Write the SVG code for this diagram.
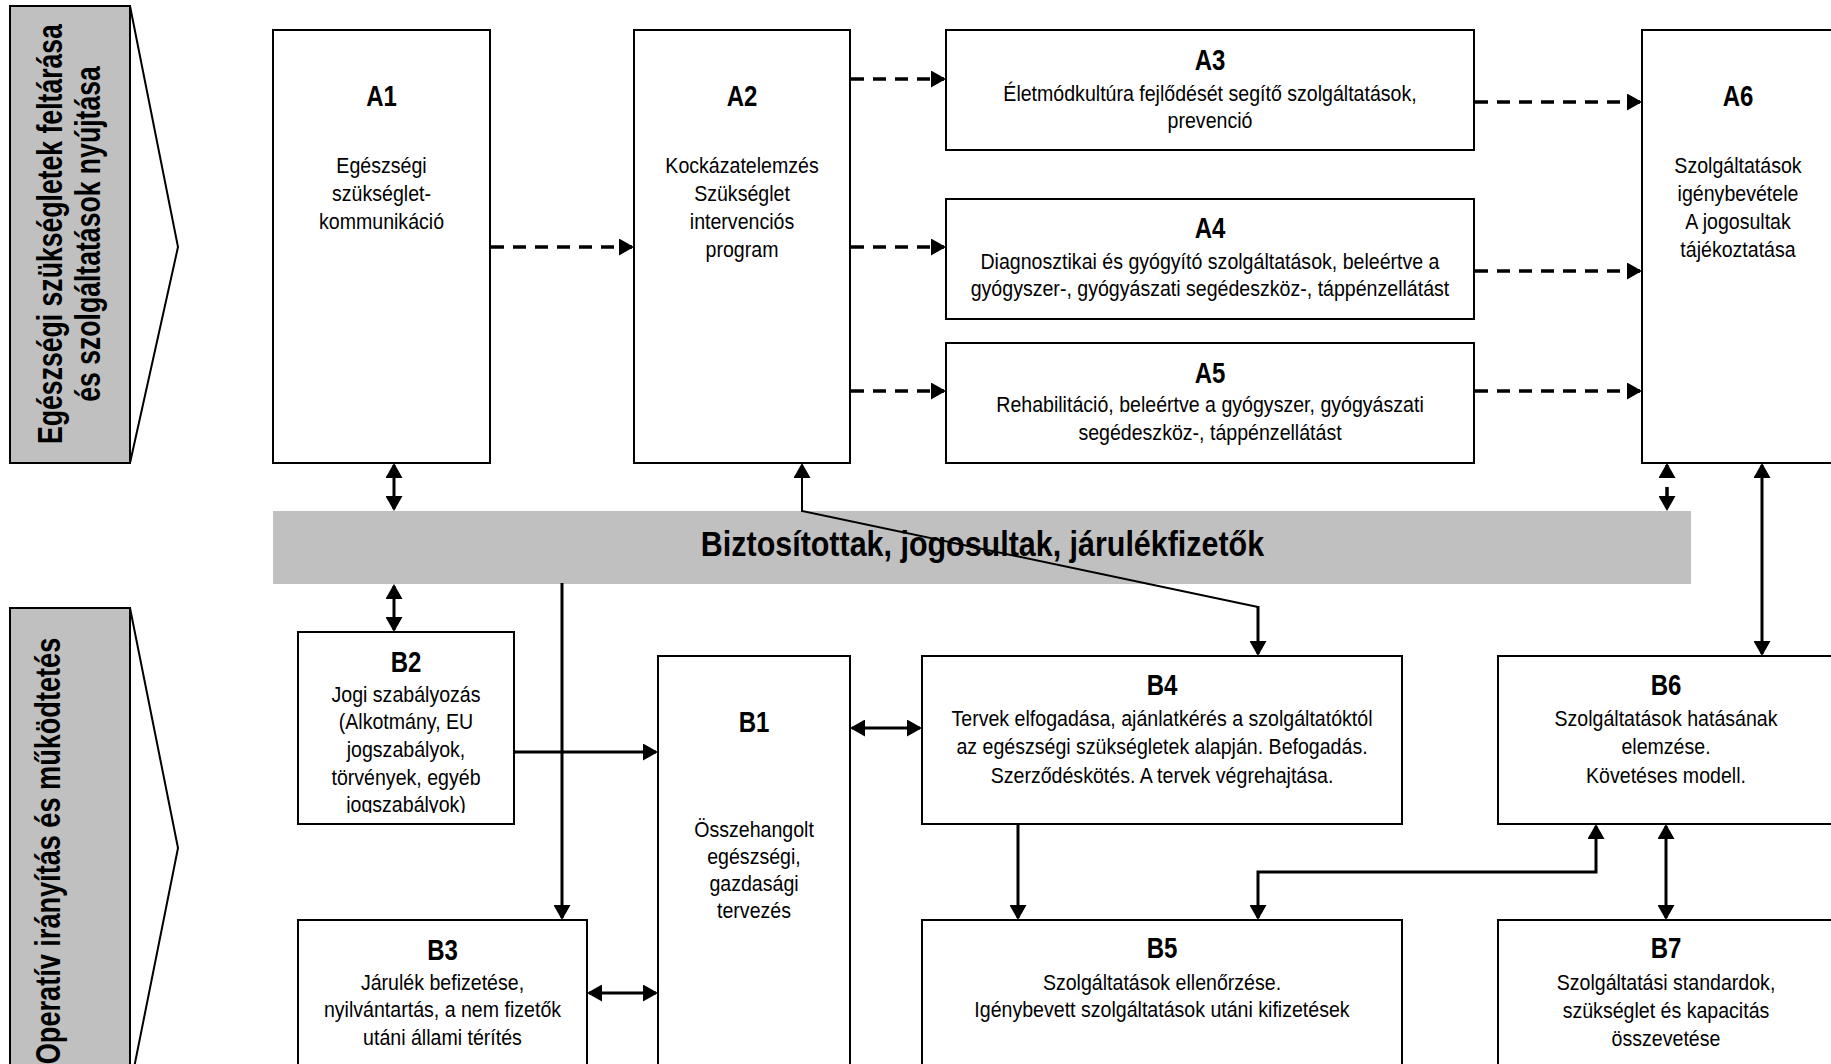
<svg xmlns="http://www.w3.org/2000/svg" width="1831" height="1064" viewBox="0 0 1831 1064">
<style>
.box{fill:#fff;stroke:#000;stroke-width:2}
.band{fill:#c0c0c0;stroke:#000;stroke-width:2}
.chev{fill:none;stroke:#000;stroke-width:2}
.bar{fill:#c0c0c0}
text{font-family:"Liberation Sans",Arial,sans-serif;fill:#000;text-anchor:middle}
.lbl{font-size:30px;font-weight:bold}
.txt{font-size:22px}
.ttl{font-size:35px;font-weight:bold}
.ban{font-size:35px;font-weight:bold}
.c{fill:none;stroke:#000;stroke-width:3}
.d{stroke-dasharray:13 9;stroke-width:3.5}
.thin{stroke-width:2}
</style>
<defs>
<marker id="ah" viewBox="0 0 15 17" refX="13" refY="8.5" markerWidth="15" markerHeight="17" markerUnits="userSpaceOnUse" orient="auto-start-reverse">
<path d="M0,0 L15,8.5 L0,17 Z" fill="#000"/>
</marker>
<clipPath id="clipB2"><rect x="299" y="633" width="214" height="180"/></clipPath>
</defs>

<g id="banner-top">
<rect class="band" x="10" y="6" width="120" height="457"/>
<polyline class="chev" points="130,6 178,247 130,463"/>
<text class="ban" transform="translate(62,234) rotate(-90) scale(0.76,1)">Egészségi szükségletek feltárása</text>
<text class="ban" transform="translate(100,234) rotate(-90) scale(0.76,1)">és szolgáltatások nyújtása</text>
</g>
<g id="banner-bottom">
<rect class="band" x="10" y="608" width="120" height="480"/>
<polyline class="chev" points="130,608 178,848 130,1088"/>
<text class="ban" transform="translate(60,851) rotate(-90) scale(0.775,1)">Operatív irányítás és működtetés</text>
</g>

<g id="bar">
<rect class="bar" x="273" y="511" width="1418" height="73"/>
<text class="ttl" transform="translate(982.5,556) scale(0.87,1)">Biztosítottak, jogosultak, járulékfizetők</text>
</g>

<g id="A1">
<rect class="box" x="273" y="30" width="217" height="433"/>
<text class="lbl" transform="translate(381.5,106) scale(0.8,1)">A1</text>
<text class="txt" transform="translate(381.5,173) scale(0.89,1)"><tspan x="0">Egészségi</tspan><tspan x="0" dy="28">szükséglet-</tspan><tspan x="0" dy="28">kommunikáció</tspan></text>
</g>
<g id="A2">
<rect class="box" x="634" y="30" width="216" height="433"/>
<text class="lbl" transform="translate(742,106) scale(0.8,1)">A2</text>
<text class="txt" transform="translate(742,173) scale(0.89,1)"><tspan x="0">Kockázatelemzés</tspan><tspan x="0" dy="28">Szükséglet</tspan><tspan x="0" dy="28">intervenciós</tspan><tspan x="0" dy="28">program</tspan></text>
</g>
<g id="A3">
<rect class="box" x="946" y="30" width="528" height="120"/>
<text class="lbl" transform="translate(1210,70) scale(0.8,1)">A3</text>
<text class="txt" transform="translate(1210,101) scale(0.89,1)"><tspan x="0">Életmódkultúra fejlődését segítő szolgáltatások,</tspan><tspan x="0" dy="27.5">prevenció</tspan></text>
</g>
<g id="A4">
<rect class="box" x="946" y="199" width="528" height="120"/>
<text class="lbl" transform="translate(1210,238) scale(0.8,1)">A4</text>
<text class="txt" transform="translate(1210,268.5) scale(0.89,1)"><tspan x="0">Diagnosztikai és gyógyító szolgáltatások, beleértve a</tspan><tspan x="0" dy="28">gyógyszer-, gyógyászati segédeszköz-, táppénzellátást</tspan></text>
</g>
<g id="A5">
<rect class="box" x="946" y="343" width="528" height="120"/>
<text class="lbl" transform="translate(1210,383) scale(0.8,1)">A5</text>
<text class="txt" transform="translate(1210,412) scale(0.89,1)"><tspan x="0">Rehabilitáció, beleértve a gyógyszer, gyógyászati</tspan><tspan x="0" dy="28">segédeszköz-, táppénzellátást</tspan></text>
</g>
<g id="A6">
<rect class="box" x="1642" y="30" width="192" height="433"/>
<text class="lbl" transform="translate(1738,106) scale(0.8,1)">A6</text>
<text class="txt" transform="translate(1738,173) scale(0.89,1)"><tspan x="0">Szolgáltatások</tspan><tspan x="0" dy="28">igénybevétele</tspan><tspan x="0" dy="28">A jogosultak</tspan><tspan x="0" dy="28">tájékoztatása</tspan></text>
</g>

<g id="B2">
<rect class="box" x="298" y="632" width="216" height="192"/>
<text class="lbl" transform="translate(406,672) scale(0.8,1)">B2</text>
<g clip-path="url(#clipB2)">
<text class="txt" transform="translate(406,701.5) scale(0.89,1)"><tspan x="0">Jogi szabályozás</tspan><tspan x="0" dy="27.7">(Alkotmány, EU</tspan><tspan x="0" dy="27.7">jogszabályok,</tspan><tspan x="0" dy="27.7">törvények, egyéb</tspan><tspan x="0" dy="27.7">jogszabályok)</tspan></text>
</g>
</g>
<g id="B1">
<rect class="box" x="658" y="656" width="192" height="420"/>
<text class="lbl" transform="translate(754,731.5) scale(0.8,1)">B1</text>
<text class="txt" transform="translate(754,836.5) scale(0.89,1)"><tspan x="0">Összehangolt</tspan><tspan x="0" dy="27.3">egészségi,</tspan><tspan x="0" dy="27.3">gazdasági</tspan><tspan x="0" dy="27.3">tervezés</tspan></text>
</g>
<g id="B3">
<rect class="box" x="298" y="920" width="289" height="156"/>
<text class="lbl" transform="translate(442.5,960) scale(0.8,1)">B3</text>
<text class="txt" transform="translate(442.5,990) scale(0.89,1)"><tspan x="0">Járulék befizetése,</tspan><tspan x="0" dy="27.5">nyilvántartás, a nem fizetők</tspan><tspan x="0" dy="27.5">utáni állami térítés</tspan></text>
</g>
<g id="B4">
<rect class="box" x="922" y="656" width="480" height="168"/>
<text class="lbl" transform="translate(1162,695) scale(0.8,1)">B4</text>
<text class="txt" transform="translate(1162,726) scale(0.89,1)"><tspan x="0">Tervek elfogadása, ajánlatkérés a szolgáltatóktól</tspan><tspan x="0" dy="28.5">az egészségi szükségletek alapján. Befogadás.</tspan><tspan x="0" dy="28.5">Szerződéskötés. A tervek végrehajtása.</tspan></text>
</g>
<g id="B5">
<rect class="box" x="922" y="920" width="480" height="156"/>
<text class="lbl" transform="translate(1162,958) scale(0.8,1)">B5</text>
<text class="txt" transform="translate(1162,990) scale(0.89,1)"><tspan x="0">Szolgáltatások ellenőrzése.</tspan><tspan x="0" dy="27.5">Igénybevett szolgáltatások utáni kifizetések</tspan></text>
</g>
<g id="B6">
<rect class="box" x="1498" y="656" width="336" height="168"/>
<text class="lbl" transform="translate(1666,695) scale(0.8,1)">B6</text>
<text class="txt" transform="translate(1666,726) scale(0.89,1)"><tspan x="0">Szolgáltatások hatásának</tspan><tspan x="0" dy="28.5">elemzése.</tspan><tspan x="0" dy="28.5">Követéses modell.</tspan></text>
</g>
<g id="B7">
<rect class="box" x="1498" y="920" width="336" height="156"/>
<text class="lbl" transform="translate(1666,958) scale(0.8,1)">B7</text>
<text class="txt" transform="translate(1666,990) scale(0.89,1)"><tspan x="0">Szolgáltatási standardok,</tspan><tspan x="0" dy="27.8">szükséglet és kapacitás</tspan><tspan x="0" dy="27.8">összevetése</tspan></text>
</g>

<g id="connectors">
<path class="c d" d="M491,247 H632" marker-end="url(#ah)"/>
<path class="c d" d="M851,79 H944" marker-end="url(#ah)"/>
<path class="c d" d="M851,247 H944" marker-end="url(#ah)"/>
<path class="c d" d="M851,391 H944" marker-end="url(#ah)"/>
<path class="c d" d="M1475,102 H1640" marker-end="url(#ah)"/>
<path class="c d" d="M1475,271 H1640" marker-end="url(#ah)"/>
<path class="c d" d="M1475,391 H1640" marker-end="url(#ah)"/>
<path class="c d" d="M1667,465 V509" marker-start="url(#ah)" marker-end="url(#ah)"/>
<path class="c" d="M394,465 V509" marker-start="url(#ah)" marker-end="url(#ah)"/>
<path class="c" d="M394,586 V630" marker-start="url(#ah)" marker-end="url(#ah)"/>
<path class="c" d="M562,583 V918" marker-end="url(#ah)"/>
<path class="c" d="M514,752 H656" marker-end="url(#ah)"/>
<path class="c" d="M589,993 H656" marker-start="url(#ah)" marker-end="url(#ah)"/>
<path class="c" d="M852,728 H920" marker-start="url(#ah)" marker-end="url(#ah)"/>
<path class="c thin" d="M802,465 V511 L1258,607" marker-start="url(#ah)"/>
<path class="c" d="M1258,606 V654" marker-end="url(#ah)"/>
<path class="c" d="M1762,465 V654" marker-start="url(#ah)" marker-end="url(#ah)"/>
<path class="c" d="M1018,824 V918" marker-end="url(#ah)"/>
<path class="c" d="M1596,826 V872 H1258 V918" stroke-width="2.5" marker-start="url(#ah)" marker-end="url(#ah)"/>
<path class="c" d="M1666,826 V918" marker-start="url(#ah)" marker-end="url(#ah)"/>
</g>
</svg>
